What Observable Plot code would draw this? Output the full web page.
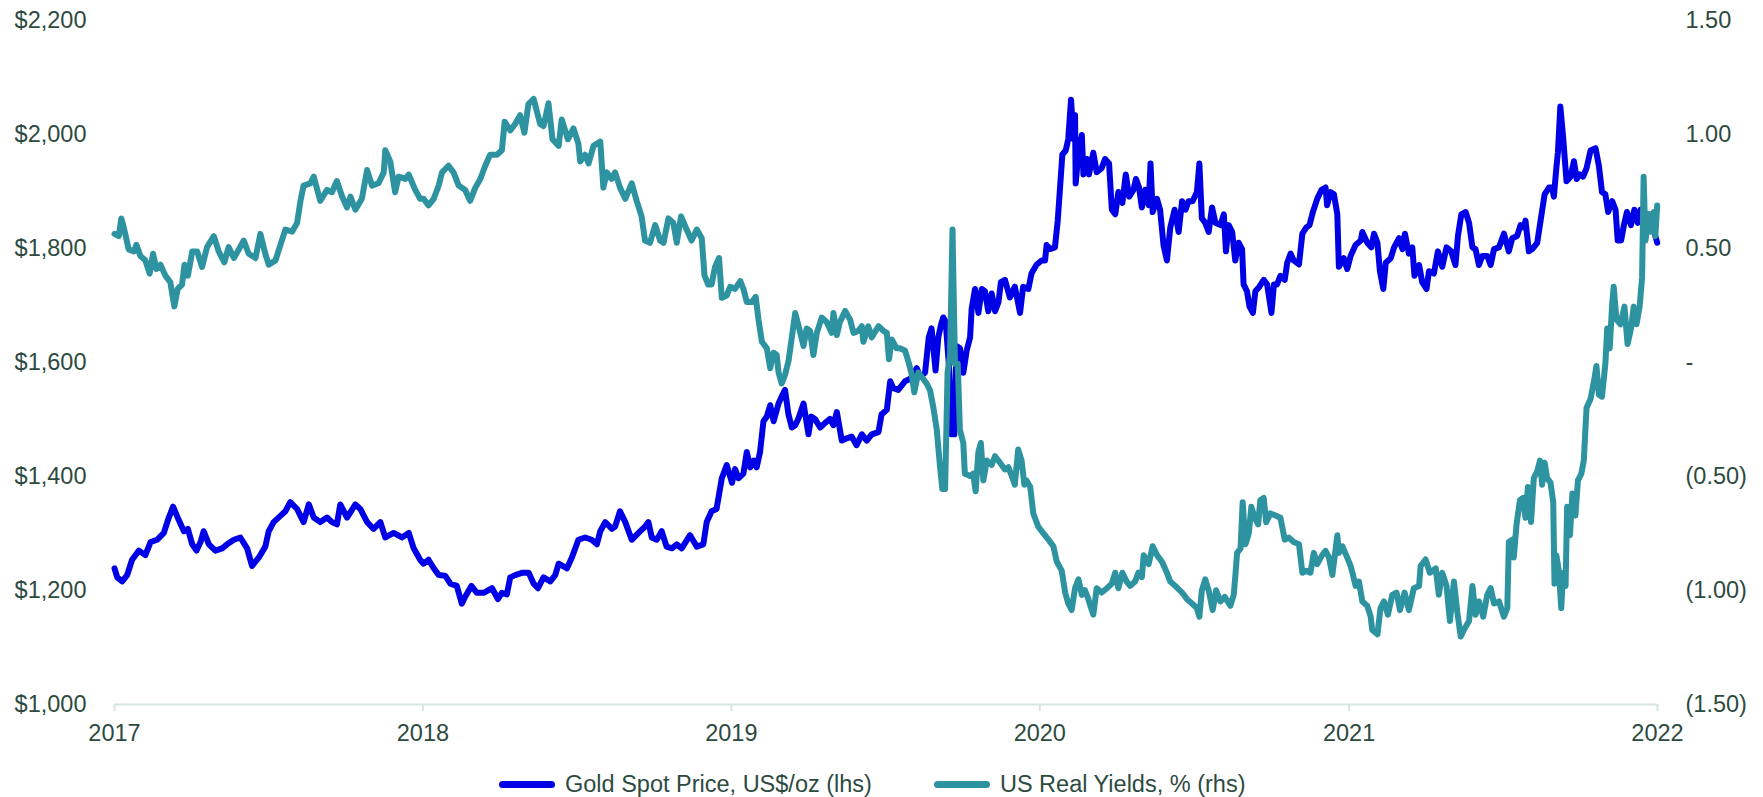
<!DOCTYPE html>
<html>
<head>
<meta charset="utf-8">
<script src="https://cdn.jsdelivr.net/npm/d3@7"></script>
<script src="https://cdn.jsdelivr.net/npm/@observablehq/plot@0.6"></script>
<style>
  html, body { margin: 0; padding: 0; background: #ffffff; }
  #wrap { position: relative; width: 1763px; height: 797px; font-family: "Liberation Sans", Arial, sans-serif; color: #2d4a3f; }
  #legend { position: absolute; left: 499px; top: 770px; height: 28px; display: flex; align-items: center; font-size: 23.5px; white-space: nowrap; }
  .sw { display: inline-block; width: 56px; height: 7px; border-radius: 3.5px; margin-right: 10px; }
</style>
</head>
<body>
<div id="wrap">
  <div id="chart"></div>
  <div id="legend"></div>
</div>
<script>
// ---- Data (decimal year, value) ----
const gold = [
[2017.000,1239],[2017.009,1223],[2017.025,1216],[2017.041,1227],[2017.057,1254],[2017.079,1270],[2017.100,1262],[2017.117,1285],[2017.138,1289],[2017.160,1301],[2017.176,1328],[2017.190,1347],[2017.208,1324],[2017.225,1304],[2017.238,1308],[2017.252,1281],[2017.266,1270],[2017.279,1285],[2017.289,1304],[2017.306,1281],[2017.327,1270],[2017.349,1274],[2017.365,1281],[2017.387,1289],[2017.408,1293],[2017.430,1274],[2017.446,1243],[2017.468,1258],[2017.489,1277],[2017.500,1304],[2017.516,1320],[2017.538,1331],[2017.554,1339],[2017.570,1355],[2017.592,1343],[2017.613,1320],[2017.630,1351],[2017.646,1328],[2017.667,1320],[2017.689,1328],[2017.705,1320],[2017.721,1316],[2017.732,1351],[2017.754,1328],[2017.781,1351],[2017.797,1343],[2017.819,1320],[2017.840,1308],[2017.862,1320],[2017.878,1293],[2017.905,1301],[2017.932,1293],[2017.954,1301],[2017.970,1274],[2017.991,1254],
[2018.002,1247],[2018.018,1254],[2018.035,1239],[2018.051,1227],[2018.072,1226],[2018.089,1212],[2018.110,1208],[2018.126,1177],[2018.137,1189],[2018.157,1208],[2018.175,1196],[2018.197,1196],[2018.224,1204],[2018.243,1185],[2018.256,1196],[2018.272,1193],[2018.283,1223],[2018.299,1227],[2018.321,1231],[2018.343,1231],[2018.359,1212],[2018.373,1204],[2018.391,1223],[2018.413,1216],[2018.429,1227],[2018.440,1247],[2018.467,1239],[2018.483,1258],[2018.504,1289],[2018.526,1293],[2018.547,1289],[2018.564,1281],[2018.575,1304],[2018.591,1320],[2018.613,1308],[2018.623,1312],[2018.639,1339],[2018.656,1320],[2018.677,1289],[2018.699,1301],[2018.720,1312],[2018.731,1320],[2018.742,1293],[2018.758,1289],[2018.774,1304],[2018.790,1277],[2018.807,1274],[2018.823,1281],[2018.839,1274],[2018.866,1297],[2018.888,1277],[2018.909,1281],[2018.920,1320],[2018.936,1339],[2018.952,1343],[2018.969,1397],[2018.985,1420],
[2019.002,1389],[2019.012,1413],[2019.023,1397],[2019.039,1405],[2019.050,1443],[2019.061,1416],[2019.072,1428],[2019.082,1416],[2019.093,1443],[2019.104,1497],[2019.115,1505],[2019.126,1525],[2019.137,1497],[2019.153,1528],[2019.163,1540],[2019.174,1552],[2019.185,1509],[2019.196,1486],[2019.207,1490],[2019.217,1501],[2019.234,1528],[2019.250,1474],[2019.259,1505],[2019.271,1501],[2019.288,1486],[2019.304,1494],[2019.320,1501],[2019.331,1490],[2019.342,1513],[2019.358,1463],[2019.374,1467],[2019.390,1470],[2019.406,1455],[2019.423,1474],[2019.439,1463],[2019.455,1474],[2019.477,1478],[2019.487,1509],[2019.504,1517],[2019.515,1567],[2019.525,1555],[2019.541,1552],[2019.563,1567],[2019.579,1571],[2019.590,1579],[2019.601,1590],[2019.612,1575],[2019.628,1582],[2019.640,1644],[2019.649,1660],[2019.662,1586],[2019.671,1644],[2019.680,1667],[2019.687,1679],[2019.695,1671],[2019.706,1590],[2019.714,1474],[2019.723,1474],[2019.730,1629],[2019.741,1625],[2019.752,1582],[2019.763,1621],[2019.774,1644],[2019.779,1694],[2019.790,1729],[2019.801,1687],[2019.812,1729],[2019.822,1725],[2019.833,1690],[2019.844,1721],[2019.855,1690],[2019.866,1706],[2019.874,1741],[2019.887,1745],[2019.903,1714],[2019.919,1733],[2019.936,1687],[2019.946,1733],[2019.963,1729],[2019.973,1756],[2019.990,1772],
[2020.006,1779],[2020.017,1779],[2020.022,1806],[2020.033,1799],[2020.049,1802],[2020.058,1849],[2020.065,1903],[2020.073,1965],[2020.084,1972],[2020.092,1992],[2020.101,2061],[2020.109,1992],[2020.114,2034],[2020.116,1914],[2020.125,1968],[2020.136,1999],[2020.141,1930],[2020.152,1957],[2020.159,1930],[2020.173,1968],[2020.184,1934],[2020.200,1941],[2020.211,1957],[2020.224,1949],[2020.233,1868],[2020.244,1860],[2020.254,1899],[2020.267,1880],[2020.278,1930],[2020.289,1891],[2020.303,1903],[2020.311,1922],[2020.321,1907],[2020.330,1872],[2020.341,1903],[2020.352,1876],[2020.358,1949],[2020.365,1864],[2020.379,1887],[2020.389,1868],[2020.400,1806],[2020.411,1779],[2020.422,1837],[2020.436,1868],[2020.449,1829],[2020.460,1883],[2020.471,1868],[2020.481,1883],[2020.494,1883],[2020.508,1899],[2020.516,1949],[2020.524,1853],[2020.535,1845],[2020.546,1829],[2020.557,1872],[2020.568,1845],[2020.584,1841],[2020.595,1860],[2020.602,1795],[2020.611,1841],[2020.622,1829],[2020.632,1779],[2020.643,1810],[2020.654,1799],[2020.659,1737],[2020.670,1725],[2020.678,1698],[2020.689,1687],[2020.697,1725],[2020.710,1733],[2020.724,1745],[2020.735,1737],[2020.749,1687],[2020.757,1737],[2020.767,1737],[2020.778,1752],[2020.792,1745],[2020.800,1775],[2020.811,1791],[2020.821,1779],[2020.838,1772],[2020.849,1826],[2020.862,1837],[2020.872,1841],[2020.883,1864],[2020.897,1887],[2020.911,1903],[2020.924,1907],[2020.929,1876],[2020.940,1899],[2020.951,1895],[2020.962,1860],[2020.967,1768],[2020.983,1783],[2020.994,1764],
[2021.005,1787],[2021.021,1806],[2021.038,1814],[2021.043,1829],[2021.059,1810],[2021.072,1802],[2021.081,1826],[2021.092,1810],[2021.100,1760],[2021.111,1729],[2021.119,1775],[2021.135,1783],[2021.146,1802],[2021.162,1818],[2021.173,1799],[2021.181,1826],[2021.194,1791],[2021.205,1802],[2021.212,1752],[2021.227,1771],[2021.237,1741],[2021.251,1729],[2021.259,1760],[2021.275,1756],[2021.288,1795],[2021.302,1768],[2021.316,1802],[2021.331,1795],[2021.345,1771],[2021.353,1822],[2021.364,1860],[2021.378,1864],[2021.389,1845],[2021.400,1802],[2021.410,1799],[2021.421,1771],[2021.432,1787],[2021.448,1787],[2021.459,1771],[2021.470,1799],[2021.486,1802],[2021.502,1826],[2021.518,1795],[2021.529,1818],[2021.545,1822],[2021.556,1841],[2021.567,1837],[2021.572,1849],[2021.583,1795],[2021.594,1799],[2021.610,1810],[2021.621,1849],[2021.634,1895],[2021.648,1907],[2021.658,1907],[2021.664,1891],[2021.672,1941],[2021.677,1968],[2021.685,2049],[2021.694,1995],[2021.705,1918],[2021.718,1926],[2021.729,1953],[2021.738,1922],[2021.748,1930],[2021.759,1926],[2021.770,1941],[2021.783,1972],[2021.799,1976],[2021.810,1945],[2021.820,1899],[2021.831,1895],[2021.840,1864],[2021.853,1883],[2021.864,1868],[2021.871,1814],[2021.882,1814],[2021.891,1841],[2021.901,1864],[2021.914,1841],[2021.925,1868],[2021.936,1845],[2021.945,1868],[2021.955,1856],[2021.971,1837],[2021.982,1860],[2021.993,1822],[2021.999,1810]
];

const realYields = [
[2017.000,0.564],[2017.014,0.554],[2017.022,0.632],[2017.030,0.593],[2017.046,0.496],[2017.063,0.487],[2017.071,0.516],[2017.084,0.467],[2017.100,0.448],[2017.114,0.390],[2017.125,0.477],[2017.136,0.410],[2017.149,0.429],[2017.165,0.381],[2017.181,0.352],[2017.194,0.246],[2017.205,0.323],[2017.219,0.342],[2017.227,0.429],[2017.238,0.381],[2017.252,0.487],[2017.268,0.487],[2017.284,0.419],[2017.300,0.506],[2017.322,0.554],[2017.338,0.487],[2017.356,0.439],[2017.370,0.506],[2017.387,0.458],[2017.403,0.496],[2017.419,0.535],[2017.435,0.477],[2017.457,0.458],[2017.473,0.564],[2017.489,0.477],[2017.500,0.429],[2017.522,0.448],[2017.538,0.516],[2017.554,0.583],[2017.576,0.574],[2017.592,0.612],[2017.603,0.709],[2017.613,0.776],[2017.635,0.786],[2017.646,0.815],[2017.667,0.709],[2017.689,0.757],[2017.705,0.747],[2017.721,0.796],[2017.738,0.728],[2017.754,0.680],[2017.765,0.728],[2017.781,0.670],[2017.802,0.718],[2017.819,0.844],[2017.835,0.776],[2017.856,0.786],[2017.873,0.834],[2017.878,0.931],[2017.894,0.882],[2017.910,0.747],[2017.921,0.815],[2017.943,0.805],[2017.954,0.824],[2017.975,0.757],[2017.991,0.718],
[2018.002,0.718],[2018.018,0.689],[2018.035,0.718],[2018.051,0.776],[2018.062,0.834],[2018.083,0.863],[2018.099,0.834],[2018.116,0.776],[2018.137,0.757],[2018.153,0.709],[2018.170,0.767],[2018.186,0.805],[2018.202,0.863],[2018.218,0.911],[2018.240,0.911],[2018.256,0.931],[2018.265,1.056],[2018.283,1.018],[2018.299,1.046],[2018.315,1.085],[2018.329,1.008],[2018.342,1.133],[2018.359,1.156],[2018.380,1.046],[2018.391,1.037],[2018.407,1.137],[2018.420,0.979],[2018.440,0.950],[2018.450,1.066],[2018.470,0.979],[2018.488,1.027],[2018.504,0.960],[2018.510,0.882],[2018.526,0.911],[2018.537,0.873],[2018.553,0.950],[2018.575,0.969],[2018.585,0.767],[2018.596,0.834],[2018.612,0.805],[2018.623,0.834],[2018.639,0.767],[2018.656,0.718],[2018.677,0.786],[2018.693,0.709],[2018.709,0.641],[2018.720,0.535],[2018.736,0.525],[2018.753,0.603],[2018.769,0.535],[2018.780,0.525],[2018.796,0.632],[2018.812,0.612],[2018.823,0.525],[2018.837,0.641],[2018.855,0.583],[2018.871,0.535],[2018.888,0.583],[2018.904,0.545],[2018.913,0.381],[2018.925,0.342],[2018.936,0.342],[2018.947,0.419],[2018.960,0.458],[2018.969,0.284],[2018.985,0.294],
[2018.996,0.332],[2019.012,0.323],[2019.029,0.357],[2019.039,0.323],[2019.050,0.265],[2019.066,0.265],[2019.079,0.288],[2019.088,0.188],[2019.099,0.091],[2019.115,0.062],[2019.126,-0.025],[2019.137,0.043],[2019.147,0.033],[2019.153,-0.044],[2019.163,-0.092],[2019.174,-0.054],[2019.185,0.004],[2019.196,0.110],[2019.207,0.217],[2019.220,0.149],[2019.234,0.072],[2019.244,0.149],[2019.255,0.139],[2019.266,0.033],[2019.277,0.130],[2019.293,0.197],[2019.309,0.178],[2019.325,0.130],[2019.331,0.217],[2019.342,0.120],[2019.352,0.178],[2019.369,0.226],[2019.385,0.188],[2019.396,0.130],[2019.412,0.139],[2019.423,0.159],[2019.428,0.091],[2019.444,0.159],[2019.455,0.110],[2019.477,0.159],[2019.493,0.139],[2019.504,0.130],[2019.511,0.014],[2019.520,0.101],[2019.536,0.062],[2019.547,0.062],[2019.563,0.053],[2019.574,0.004],[2019.585,-0.054],[2019.593,-0.131],[2019.606,-0.044],[2019.623,-0.073],[2019.633,-0.092],[2019.644,-0.121],[2019.655,-0.198],[2019.666,-0.295],[2019.676,-0.449],[2019.684,-0.555],[2019.693,-0.555],[2019.701,-0.044],[2019.709,0.033],[2019.717,0.583],[2019.725,-0.005],[2019.734,-0.005],[2019.741,-0.295],[2019.752,-0.353],[2019.757,-0.488],[2019.774,-0.498],[2019.784,-0.488],[2019.792,-0.565],[2019.801,-0.391],[2019.809,-0.353],[2019.817,-0.517],[2019.828,-0.430],[2019.844,-0.449],[2019.855,-0.411],[2019.871,-0.440],[2019.887,-0.469],[2019.898,-0.459],[2019.909,-0.498],[2019.919,-0.536],[2019.930,-0.382],[2019.941,-0.430],[2019.950,-0.536],[2019.957,-0.517],[2019.969,-0.546],[2019.979,-0.662],[2019.995,-0.720],
[2020.011,-0.748],[2020.028,-0.777],[2020.044,-0.806],[2020.055,-0.874],[2020.071,-0.913],[2020.082,-1.009],[2020.092,-1.057],[2020.103,-1.086],[2020.114,-0.990],[2020.125,-0.951],[2020.136,-1.019],[2020.146,-0.999],[2020.157,-1.038],[2020.166,-1.077],[2020.173,-1.106],[2020.184,-0.990],[2020.200,-1.009],[2020.217,-0.990],[2020.233,-0.970],[2020.244,-0.922],[2020.254,-0.990],[2020.267,-0.922],[2020.281,-0.961],[2020.292,-0.980],[2020.308,-0.961],[2020.319,-0.922],[2020.330,-0.941],[2020.336,-0.845],[2020.352,-0.884],[2020.365,-0.806],[2020.379,-0.845],[2020.395,-0.874],[2020.411,-0.922],[2020.422,-0.961],[2020.438,-0.980],[2020.460,-1.009],[2020.476,-1.038],[2020.492,-1.057],[2020.508,-1.077],[2020.516,-1.115],[2020.524,-0.999],[2020.535,-0.951],[2020.546,-0.999],[2020.559,-1.086],[2020.570,-0.999],[2020.584,-1.048],[2020.598,-1.028],[2020.616,-1.067],[2020.627,-1.019],[2020.632,-0.941],[2020.638,-0.835],[2020.649,-0.816],[2020.656,-0.613],[2020.665,-0.797],[2020.676,-0.748],[2020.684,-0.633],[2020.695,-0.681],[2020.706,-0.710],[2020.713,-0.604],[2020.724,-0.594],[2020.732,-0.700],[2020.746,-0.662],[2020.762,-0.671],[2020.778,-0.681],[2020.792,-0.777],[2020.805,-0.768],[2020.821,-0.787],[2020.838,-0.797],[2020.849,-0.922],[2020.862,-0.913],[2020.875,-0.922],[2020.886,-0.835],[2020.897,-0.884],[2020.913,-0.845],[2020.924,-0.826],[2020.935,-0.855],[2020.946,-0.932],[2020.962,-0.758],[2020.967,-0.835],[2020.978,-0.806],[2020.994,-0.855],
[2021.005,-0.893],[2021.011,-0.922],[2021.021,-0.980],[2021.032,-0.961],[2021.043,-1.048],[2021.059,-1.067],[2021.070,-1.115],[2021.075,-1.173],[2021.092,-1.192],[2021.102,-1.077],[2021.113,-1.048],[2021.126,-1.106],[2021.140,-1.019],[2021.154,-1.009],[2021.165,-1.086],[2021.180,-1.009],[2021.194,-1.086],[2021.210,-0.990],[2021.227,-0.980],[2021.232,-0.893],[2021.248,-0.864],[2021.262,-0.922],[2021.281,-0.903],[2021.291,-1.019],[2021.302,-0.922],[2021.316,-0.980],[2021.327,-1.134],[2021.340,-0.961],[2021.351,-1.096],[2021.362,-1.202],[2021.372,-1.173],[2021.389,-1.134],[2021.400,-0.980],[2021.410,-1.106],[2021.421,-1.048],[2021.435,-1.115],[2021.448,-1.019],[2021.459,-0.990],[2021.470,-1.057],[2021.486,-1.048],[2021.502,-1.115],[2021.513,-1.077],[2021.518,-0.787],[2021.529,-0.777],[2021.534,-0.855],[2021.543,-0.710],[2021.554,-0.604],[2021.564,-0.594],[2021.572,-0.681],[2021.580,-0.546],[2021.590,-0.700],[2021.599,-0.507],[2021.610,-0.478],[2021.619,-0.430],[2021.626,-0.536],[2021.634,-0.440],[2021.642,-0.507],[2021.653,-0.527],[2021.662,-0.613],[2021.666,-0.970],[2021.672,-0.845],[2021.680,-0.913],[2021.688,-1.077],[2021.694,-0.922],[2021.702,-0.980],[2021.707,-0.633],[2021.716,-0.758],[2021.724,-0.575],[2021.734,-0.671],[2021.742,-0.517],[2021.753,-0.488],[2021.761,-0.430],[2021.770,-0.198],[2021.783,-0.160],[2021.794,-0.083],[2021.802,-0.015],[2021.810,-0.141],[2021.820,-0.150],[2021.831,-0.005],[2021.837,0.149],[2021.845,0.062],[2021.853,0.255],[2021.858,0.332],[2021.867,0.188],[2021.880,0.168],[2021.893,0.245],[2021.903,0.081],[2021.914,0.149],[2021.923,0.245],[2021.932,0.168],[2021.942,0.245],[2021.950,0.371],[2021.955,0.815],[2021.961,0.535],[2021.972,0.651],[2021.980,0.574],[2021.988,0.660],[2021.993,0.554],[2021.999,0.689]
];

// Axis ticks and labels
const xTickYears = [2017, 2018, 2019, 2020, 2021, 2022];
const goldTicks = [1000, 1200, 1400, 1600, 1800, 2000, 2200];
const goldTickLabels = ["$1,000", "$1,200", "$1,400", "$1,600", "$1,800", "$2,000", "$2,200"];
const yieldTicks = [-1.5, -1.0, -0.5, 0, 0.5, 1.0, 1.5];
const yieldTickLabels = ["(1.50)", "(1.00)", "(0.50)", "-", "0.50", "1.00", "1.50"];

const seriesNames = ["Gold Spot Price, US$/oz (lhs)", "US Real Yields, % (rhs)"];
const seriesColors = ["#0000e6", "#2e93a0"];

// ---- helpers ----
const toDate = (y) => {
  const yr = Math.floor(y);
  const s = Date.UTC(yr, 0, 1), e = Date.UTC(yr + 1, 0, 1);
  return new Date(s + (y - yr) * (e - s));
};
// right-hand (yields) axis mapped onto the left-hand (gold) scale
const goldDomain = [1000, 2200];
const yieldDomain = [-1.5, 1.5];
const yieldToGold = d3.scaleLinear().domain(yieldDomain).range(goldDomain);

const goldData = gold.map(([t, v]) => ({date: toDate(t), value: v}));
const yieldData = realYields.map(([t, v]) => ({date: toDate(t), value: yieldToGold(v)}));

const W = 1763, H = 760;
const textColor = "#2d4a3f";
const axisColor = "#d6e5e1";

const chart = Plot.plot({
  width: W,
  height: H,
  marginLeft: 114,
  marginRight: 106,
  marginTop: 20,
  marginBottom: 56,
  style: {fontFamily: '"Liberation Sans", Arial, sans-serif', fontSize: "23.5px", color: textColor, background: "#ffffff", overflow: "visible"},
  x: {type: "utc", domain: [toDate(2017), toDate(2022)], label: null},
  y: {domain: goldDomain, label: null},
  marks: [
    Plot.ruleY([goldDomain[0]], {stroke: axisColor, strokeWidth: 2}),
    Plot.axisX({
      ticks: xTickYears.map(toDate),
      tickFormat: (d) => String(d.getUTCFullYear()),
      tickSize: 7,
      tickPadding: 13,
      stroke: axisColor,
      strokeWidth: 2,
      label: null,
      fontSize: 23.5
    }),
    Plot.axisY({
      anchor: "left",
      ticks: goldTicks,
      tickFormat: (d) => goldTickLabels[goldTicks.indexOf(d)],
      tickSize: 0,
      tickPadding: 28,
      label: null,
      fontSize: 23.5
    }),
    Plot.axisY({
      anchor: "right",
      ticks: yieldTicks.map((v) => yieldToGold(v)),
      tickFormat: (d) => {
        const v = Math.round(yieldToGold.invert(d) * 100) / 100;
        return yieldTickLabels[yieldTicks.findIndex((t) => Math.abs(t - v) < 1e-6)];
      },
      tickSize: 0,
      tickPadding: 28,
      label: null,
      fontSize: 23.5
    }),
    Plot.lineY(goldData, {x: "date", y: "value", stroke: seriesColors[0], strokeWidth: 6, strokeLinejoin: "round", strokeLinecap: "round"}),
    Plot.lineY(yieldData, {x: "date", y: "value", stroke: seriesColors[1], strokeWidth: 6, strokeLinejoin: "round", strokeLinecap: "round"})
  ]
});
document.getElementById("chart").appendChild(chart);

// ---- legend ----
const legend = document.getElementById("legend");
seriesNames.forEach((name, i) => {
  const item = document.createElement("span");
  item.style.display = "inline-flex";
  item.style.alignItems = "center";
  if (i > 0) item.style.marginLeft = "62px";
  const sw = document.createElement("span");
  sw.className = "sw";
  sw.style.background = seriesColors[i];
  const label = document.createElement("span");
  label.textContent = name;
  item.appendChild(sw);
  item.appendChild(label);
  legend.appendChild(item);
});
</script>
</body>
</html>
